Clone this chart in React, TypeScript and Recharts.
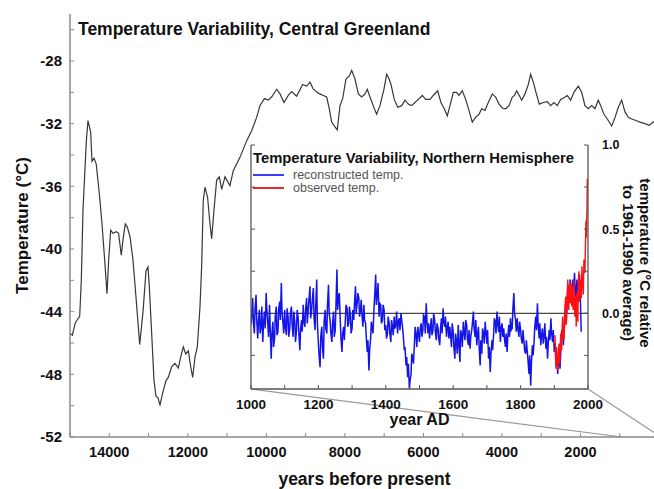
import { LineChart, Line, XAxis, YAxis, ReferenceLine, CartesianGrid } from "recharts";

// Central Greenland temperature, years before present
const gBp = [
  15000, 14940, 14865, 14753, 14712, 14669, 14584, 14542, 14473, 14440,
  14389, 14330, 14244, 14185, 14117, 14058, 14015, 13964, 13906, 13821,
  13762, 13694, 13652, 13592, 13541, 13472, 13396, 13312, 13225, 13137,
  13065, 13014, 12980, 12920, 12861, 12810, 12760, 12708, 12640, 12555,
  12497, 12410, 12326, 12241, 12182, 12114, 12054, 11986, 11927, 11876,
  11817, 11758, 11690, 11648, 11606, 11563, 11496, 11435, 11392, 11333,
  11265, 11198, 11137, 11053, 10926, 10842, 10671, 10502, 10374, 10247,
  10162, 10050, 9950, 9866, 9737, 9652, 9550, 9441, 9355, 9228,
  9075, 8973, 8888, 8803, 8676, 8548, 8463, 8396, 8337, 8252,
  8193, 8124, 8056, 7972, 7887, 7826, 7742, 7657, 7572, 7488,
  7429, 7360, 7233, 7190, 7106, 7004, 6936, 6880, 6825, 6741,
  6655, 6553, 6469, 6385, 6299, 6215, 6130, 6028, 5942, 5833,
  5748, 5637, 5553, 5468, 5392, 5323, 5238, 5154, 5095, 5010,
  4924, 4840, 4755, 4670, 4585, 4516, 4432, 4347, 4245, 4160,
  4075, 3991, 3905, 3820, 3736, 3680, 3625, 3557, 3498, 3413,
  3328, 3268, 3201, 3133, 3048, 2946, 2844, 2759, 2675, 2590,
  2505, 2420, 2335, 2250, 2166, 2056, 1970, 1885, 1801, 1715,
  1630, 1546, 1485, 1401, 1316, 1205, 1120, 1036, 951, 866,
  781, 697, 587, 485, 358, 248, 146, 0,
];
const gTemp = [
  -45.4, -45.5, -44.7, -44.3, -42.0, -37.5, -33.1, -31.8, -32.55, -34.4,
  -34.2, -34.6, -36.7, -38.4, -40.7, -42.85, -40.7, -38.8, -39.0, -38.9,
  -39.0, -40.4, -39.45, -38.4, -38.6, -39.2, -40.7, -43.3, -46.1, -43.9,
  -41.4, -41.15, -42.4, -45.4, -48.4, -49.4, -49.5, -49.95, -49.2, -48.4,
  -48.2, -47.5, -47.3, -47.6, -46.9, -46.25, -46.7, -46.5, -47.5, -48.2,
  -46.9, -46.25, -43.7, -41.15, -36.9, -36.05, -36.7, -38.4, -39.35, -37.5,
  -35.6, -35.4, -36.2, -35.4, -35.95, -35.0, -34.15, -33.1, -32.45, -31.6,
  -30.85, -30.4, -30.5, -30.3, -29.8, -30.1, -30.65, -30.2, -29.95, -30.25,
  -29.5, -29.6, -29.35, -29.8, -30.05, -30.2, -30.3, -31.05, -31.9, -32.2,
  -32.4, -30.85, -30.4, -29.15, -28.95, -28.6, -29.15, -30.1, -30.3, -30.1,
  -29.8, -30.3, -31.15, -31.4, -30.85, -29.8, -28.85, -29.1, -29.5, -30.45,
  -30.95, -30.85, -30.5, -30.75, -30.85, -30.65, -30.45, -30.2, -30.45, -30.45,
  -30.2, -29.9, -30.65, -31.05, -31.5, -30.85, -30.0, -30.0, -30.2, -29.9,
  -30.45, -31.15, -31.9, -31.6, -31.4, -31.05, -31.15, -30.65, -30.1, -30.3,
  -30.75, -31.0, -31.05, -30.85, -30.3, -30.2, -29.9, -30.2, -30.5, -30.1,
  -29.5, -28.85, -29.35, -30.0, -30.75, -30.65, -30.6, -30.85, -30.65, -30.85,
  -30.45, -30.35, -30.2, -30.5, -30.0, -29.6, -30.0, -30.85, -31.05, -30.85,
  -31.05, -30.5, -30.85, -31.4, -31.7, -32.15, -31.6, -30.95, -30.5, -31.25,
  -31.6, -31.7, -31.8, -31.9, -32.0, -32.1, -31.9, -31.7,
];

// Northern Hemisphere reconstruction, year AD (5-year samples)
const reconYears = [
  1000, 1005, 1010, 1015, 1020, 1025, 1030, 1035, 1040, 1045,
  1050, 1055, 1060, 1065, 1070, 1075, 1080, 1085, 1090, 1095,
  1100, 1105, 1110, 1115, 1120, 1125, 1130, 1135, 1140, 1145,
  1150, 1155, 1160, 1165, 1170, 1175, 1180, 1185, 1190, 1195,
  1200, 1205, 1210, 1215, 1220, 1225, 1230, 1235, 1240, 1245,
  1250, 1255, 1260, 1265, 1270, 1275, 1280, 1285, 1290, 1295,
  1300, 1305, 1310, 1315, 1320, 1325, 1330, 1335, 1340, 1345,
  1350, 1355, 1360, 1365, 1370, 1375, 1380, 1385, 1390, 1395,
  1400, 1405, 1410, 1415, 1420, 1425, 1430, 1435, 1440, 1445,
  1450, 1455, 1460, 1465, 1470, 1475, 1480, 1485, 1490, 1495,
  1500, 1505, 1510, 1515, 1520, 1525, 1530, 1535, 1540, 1545,
  1550, 1555, 1560, 1565, 1570, 1575, 1580, 1585, 1590, 1595,
  1600, 1605, 1610, 1615, 1620, 1625, 1630, 1635, 1640, 1645,
  1650, 1655, 1660, 1665, 1670, 1675, 1680, 1685, 1690, 1695,
  1700, 1705, 1710, 1715, 1720, 1725, 1730, 1735, 1740, 1745,
  1750, 1755, 1760, 1765, 1770, 1775, 1780, 1785, 1790, 1795,
  1800, 1805, 1810, 1815, 1820, 1825, 1830, 1835, 1840, 1845,
  1850, 1855, 1860, 1865, 1870, 1875, 1880, 1885, 1890, 1895,
  1900, 1905, 1910, 1915, 1920, 1925, 1930, 1935, 1940, 1945,
  1950, 1955, 1960, 1965, 1970, 1975, 1980,
];
const reconTemp = [
  -0.07, 0.09, -0.12, 0.11, -0.15, 0.02, -0.08, -0.17, 0.01, 0.12,
  -0.07, 0.05, -0.27, -0.05, -0.15, 0.04, -0.11, 0.07, 0.18, -0.06,
  0.02, -0.13, -0.02, -0.09, 0.04, -0.14, -0.05, -0.10, -0.03, -0.22,
  -0.04, 0.05, -0.08, 0.09, 0.03, 0.16, 0.02, 0.15, -0.10, 0.20,
  -0.18, -0.32, -0.08, -0.27, 0.02, -0.12, 0.17, -0.05, -0.17, 0.01,
  -0.10, 0.26, 0.10, -0.05, -0.23, -0.08, -0.04, 0.03, -0.06, -0.01,
  -0.09, -0.04, 0.16, 0.06, 0.09, 0.02, -0.03, 0.05, -0.06, -0.23,
  -0.34, -0.15, -0.09, 0.03, 0.23, 0.12, -0.02, 0.05, -0.04, 0.02,
  -0.07, -0.12, -0.06, -0.17, -0.08, -0.02, -0.07, -0.12, -0.03, 0.00,
  -0.09, -0.22, -0.31, -0.38, -0.45, -0.36, -0.27, -0.18, -0.13, -0.08,
  -0.17, -0.06, -0.10, -0.02, 0.06, -0.12, -0.15, -0.03, -0.10, -0.04,
  -0.16, -0.09, -0.19, -0.03, 0.03, -0.08, -0.14, -0.05, -0.08, -0.20,
  -0.11, -0.27, -0.17, -0.07, -0.29, -0.13, -0.05, -0.16, -0.07, -0.19,
  -0.21, -0.10, 0.01, -0.14, -0.19, -0.08, -0.31, -0.24, -0.12, -0.05,
  -0.18, -0.27, -0.35, -0.16, -0.12, -0.05, 0.01, -0.11, -0.17, -0.06,
  -0.09, -0.20, -0.23, -0.07, -0.03, -0.09, 0.12, -0.04, -0.03, -0.14,
  -0.10, -0.18, -0.17, -0.24, -0.23, -0.36, -0.43, -0.19, -0.17, -0.02,
  0.06, -0.15, -0.19, -0.09, -0.13, -0.21, -0.27, -0.10, -0.03, -0.17,
  -0.23, -0.31, -0.36, -0.27, -0.20, -0.12, -0.05, 0.08, 0.16, 0.07,
  0.15, 0.20, 0.24, 0.09, 0.15, 0.23, -0.11,
];
// in-between years of the reconstruction (short-term swings)
const reconMidYears = [
  1002, 1007, 1012, 1017, 1022, 1027, 1032, 1037, 1042, 1047,
  1052, 1057, 1062, 1067, 1072, 1077, 1082, 1087, 1092, 1097,
  1102, 1107, 1112, 1117, 1122, 1127, 1132, 1137, 1142, 1147,
  1152, 1157, 1162, 1167, 1172, 1177, 1182, 1187, 1192, 1197,
  1202, 1207, 1212, 1217, 1222, 1227, 1232, 1237, 1242, 1247,
  1252, 1257, 1262, 1267, 1272, 1277, 1282, 1287, 1292, 1297,
  1302, 1307, 1312, 1317, 1322, 1327, 1332, 1337, 1342, 1347,
  1352, 1357, 1362, 1367, 1372, 1377, 1382, 1387, 1392, 1397,
  1402, 1407, 1412, 1417, 1422, 1427, 1432, 1437, 1442, 1447,
  1452, 1457, 1462, 1467, 1472, 1477, 1482, 1487, 1492, 1497,
  1502, 1507, 1512, 1517, 1522, 1527, 1532, 1537, 1542, 1547,
  1552, 1557, 1562, 1567, 1572, 1577, 1582, 1587, 1592, 1597,
  1602, 1607, 1612, 1617, 1622, 1627, 1632, 1637, 1642, 1647,
  1652, 1657, 1662, 1667, 1672, 1677, 1682, 1687, 1692, 1697,
  1702, 1707, 1712, 1717, 1722, 1727, 1732, 1737, 1742, 1747,
  1752, 1757, 1762, 1767, 1772, 1777, 1782, 1787, 1792, 1797,
  1802, 1807, 1812, 1817, 1822, 1827, 1832, 1837, 1842, 1847,
  1852, 1857, 1862, 1867, 1872, 1877, 1882, 1887, 1892, 1897,
  1902, 1907, 1912, 1917, 1922, 1927, 1932, 1937, 1942, 1947,
  1952, 1957, 1962, 1967, 1972, 1977,
];
const reconMidTemp = [
  -0.02, -0.05, 0.03, -0.04, -0.05, -0.12, 0.04, -0.06, -0.09, 0.02,
  -0.14, -0.10, -0.12, -0.20, -0.02, -0.13, 0.02, -0.04, 0.01, -0.12,
  -0.08, 0.03, -0.14, 0.00, -0.07, 0.01, -0.17, 0.02, -0.12, -0.10,
  -0.11, -0.05, 0.02, -0.06, 0.08, -0.03, 0.08, -0.02, 0.04, -0.06,
  -0.25, -0.14, -0.20, -0.05, -0.09, 0.05, 0.00, -0.12, -0.06, -0.14,
  0.04, 0.02, 0.12, -0.15, -0.12, -0.16, 0.05, -0.08, 0.04, -0.12,
  0.02, 0.05, 0.00, 0.12, -0.02, 0.08, -0.08, -0.04, -0.14, -0.16,
  -0.22, -0.05, -0.12, 0.10, 0.05, 0.18, 0.06, -0.06, 0.05, -0.10,
  -0.15, -0.02, -0.12, -0.04, -0.13, -0.09, 0.01, -0.05, -0.10, -0.04,
  -0.14, -0.20, -0.26, -0.30, -0.40, -0.24, -0.30, -0.08, -0.20, -0.12,
  -0.09, -0.14, -0.01, -0.12, -0.04, -0.06, -0.09, -0.13, 0.00, -0.11,
  -0.06, -0.15, -0.10, -0.12, -0.05, -0.02, -0.09, -0.15, -0.13, -0.06,
  -0.20, -0.12, -0.24, -0.18, -0.10, -0.20, -0.11, -0.04, -0.15, -0.10,
  -0.14, -0.06, -0.09, -0.04, -0.13, -0.20, -0.16, -0.09, -0.18, -0.11,
  -0.10, -0.20, -0.24, -0.22, -0.03, -0.12, -0.06, -0.02, -0.09, -0.14,
  -0.15, -0.12, -0.14, -0.14, -0.10, 0.02, 0.00, -0.11, -0.09, -0.05,
  -0.15, -0.10, -0.22, -0.16, -0.28, -0.25, -0.30, -0.25, -0.08, -0.10,
  -0.07, -0.06, -0.13, -0.18, -0.06, -0.14, -0.18, -0.16, -0.12, -0.10,
  -0.18, -0.24, -0.30, -0.33, -0.10, -0.19, 0.02, 0.00, 0.10, 0.20,
  0.08, 0.12, 0.14, 0.20, 0.07, 0.10,
];

// Instrumental record
const obsYears = [
  1902, 1904, 1905, 1907, 1908, 1910, 1911, 1913, 1914, 1916,
  1917, 1919, 1920, 1922, 1923, 1925, 1926, 1928, 1929, 1931,
  1932, 1934, 1935, 1937, 1938, 1940, 1941, 1943, 1944, 1946,
  1947, 1949, 1950, 1952, 1953, 1955, 1956, 1958, 1959, 1961,
  1962, 1964, 1965, 1967, 1968, 1970, 1971, 1973, 1974, 1976,
  1977, 1979, 1980, 1982, 1983, 1985, 1986, 1988, 1989, 1991,
  1992, 1994, 1995, 1997, 1998,
];
const obsTemp = [
  -0.13, -0.25, -0.33, -0.20, -0.24, -0.34, -0.31, -0.22, -0.18, -0.30,
  -0.26, -0.12, -0.15, -0.22, -0.10, -0.02, -0.06, -0.16, -0.14, -0.05,
  0.05, 0.10, -0.07, -0.02, 0.08, 0.20, 0.12, 0.02, 0.17, 0.08,
  0.06, 0.18, 0.09, 0.04, 0.16, 0.08, 0.02, 0.20, 0.12, -0.02,
  0.05, 0.10, -0.08, 0.12, 0.02, -0.05, 0.18, 0.25, 0.07, 0.12,
  0.20, 0.15, 0.09, 0.28, 0.22, 0.15, 0.11, 0.32, 0.30, 0.24,
  0.36, 0.55, 0.45, 0.62, 0.80,
];

const bpTicks = [15000, 14000, 13000, 12000, 11000, 10000, 9000, 8000, 7000, 6000, 5000, 4000, 3000, 2000, 1000, 0];
const tempTicks = [-52, -50, -48, -46, -44, -42, -40, -38, -36, -34, -32, -30, -28, -26];
const adTicks = [1000, 1100, 1200, 1300, 1400, 1500, 1600, 1700, 1800, 1900, 2000];
const anomTicks = [-0.25, 0, 0.25, 0.5, 0.75, 1];

const greenland = gBp.map((bp, i) => ({ bp, temp: gTemp[i] }));
const recon = [
  ...reconYears.map((year, i) => ({ year, temp: reconTemp[i] })),
  ...reconMidYears.map((year, i) => ({ year, temp: reconMidTemp[i] })),
].sort((a, b) => a.year - b.year);
const observed = obsYears.map((year, i) => ({ year, temp: obsTemp[i] }));

const FONT = '"Liberation Sans", Arial, sans-serif';
const AXIS = "#8a8a8a";
const BLUE = "#1414e8";
const RED = "#ff1010";

// main plot box in page pixels
const M = { left: 70, top: 14, right: 659, bottom: 437 };
// inset placement
const IN = { left: 225, top: 135, w: 429, h: 300, plotLeft: 26, plotTop: 10, yAxisW: 66, xAxisH: 46 };
const insetBottom = IN.top + IN.h - IN.xAxisH;
const insetL = IN.left + IN.plotLeft;
const insetR = IN.left + IN.w - IN.yAxisW;

const pxToBp = (px: number) => 15000 * (1 - (px - M.left) / (M.right - M.left));
const pyToTemp = (py: number) => -52 + (27 * (M.bottom - py)) / (M.bottom - M.top);

const RightLabel = (props: any) => {
  const vb = props.viewBox || {};
  const cx = vb.x + 52;
  const cy = vb.y + vb.height / 2 - 4;
  return (
    <text
      x={cx} y={cy} transform={`rotate(90, ${cx}, ${cy})`}
      textAnchor="middle" fill="#111" fontSize={15} fontWeight={700}
    >
      <tspan x={cx} dy={0}>temperature (°C relative</tspan>
      <tspan x={cx} dy={17}>to 1961-1990 average)</tspan>
    </text>
  );
};

const legendItems = [
  { name: "reconstructed temp.", color: "#3c3cff" },
  { name: "observed temp.", color: "#e82a2a" },
];

export default function App() {
  return (
    <div style={{ position: "fixed", left: 0, top: 0, width: 654, height: 489, overflow: "hidden", background: "#fff", fontFamily: FONT }}>
      <div style={{ position: "absolute", left: 0, top: 0 }}>
        <LineChart width={670} height={489} data={greenland} margin={{ top: M.top, right: 670 - M.right, bottom: 0, left: 0 }}>
          <XAxis
            dataKey="bp" type="number" domain={[0, 15000]} reversed allowDataOverflow
            ticks={bpTicks} interval={0} height={489 - M.bottom}
            tickFormatter={(v) => (v % 2000 === 0 && v > 0 ? String(v) : "")}
            tickSize={-4} tickMargin={14}
            axisLine={{ stroke: AXIS, strokeWidth: 1.5 }} tickLine={{ stroke: AXIS }}
            tick={{ fill: "#111", fontSize: 14.5, fontWeight: 700 }}
            label={{ value: "years before present", position: "insideBottom", offset: 4, fill: "#111", fontSize: 17.5, fontWeight: 700 }}
          />
          <XAxis
            xAxisId="top" orientation="top" dataKey="bp" type="number" domain={[0, 15000]} reversed allowDataOverflow
            ticks={bpTicks} interval={0} height={0} tickFormatter={() => ""} tickSize={-4}
            axisLine={{ stroke: AXIS, strokeWidth: 1.5 }} tickLine={{ stroke: AXIS }}
          />
          <YAxis
            type="number" domain={[-52, -25]} allowDataOverflow ticks={tempTicks} interval={0} width={M.left}
            tickFormatter={(v) => (v % 4 === 0 ? String(v) : "")}
            tickSize={-4} tickMargin={12}
            axisLine={{ stroke: AXIS, strokeWidth: 1.5 }} tickLine={{ stroke: AXIS }}
            tick={{ fill: "#111", fontSize: 15, fontWeight: 700 }}
            label={{ value: "Temperature (°C)", angle: -90, position: "insideLeft", offset: 22, fill: "#111", fontSize: 17, fontWeight: 700, style: { textAnchor: "middle" } }}
          />
          <ReferenceLine
            segment={[{ x: pxToBp(insetL), y: pyToTemp(insetBottom) }, { x: 950, y: -52 }]}
            stroke="#9a9a9a" strokeWidth={1.2} ifOverflow="visible"
          />
          <ReferenceLine
            segment={[{ x: pxToBp(insetR), y: pyToTemp(insetBottom) }, { x: -50, y: -52 }]}
            stroke="#9a9a9a" strokeWidth={1.2} ifOverflow="visible"
          />
          <Line type="linear" dataKey="temp" stroke="#383838" strokeWidth={1.2} dot={false} isAnimationActive={false} />
        </LineChart>
      </div>

      <div style={{ position: "absolute", left: 78, top: 21, fontSize: 17.5, fontWeight: 700, color: "#111", lineHeight: 1, whiteSpace: "nowrap" }}>
        Temperature Variability, Central Greenland
      </div>

      <div style={{ position: "absolute", left: IN.left, top: IN.top }}>
        <LineChart width={IN.w} height={IN.h} margin={{ top: IN.plotTop, right: 0, bottom: 0, left: 0 }}>
          <CartesianGrid horizontal={false} vertical={false} fill="#fff" stroke="none" />
          <XAxis
            dataKey="year" type="number" domain={[1000, 2000]} allowDataOverflow ticks={adTicks} interval={0} height={IN.xAxisH}
            tickFormatter={(v) => (v % 200 === 0 ? String(v) : "")}
            tickSize={-4} tickMargin={14}
            axisLine={{ stroke: "#555", strokeWidth: 1.3 }} tickLine={{ stroke: "#555" }}
            tick={{ fill: "#111", fontSize: 13.5, fontWeight: 700 }}
            label={{ value: "year AD", position: "insideBottom", offset: 10, fill: "#111", fontSize: 16, fontWeight: 700 }}
          />
          <XAxis
            xAxisId="top" orientation="top" dataKey="year" type="number" domain={[1000, 2000]} allowDataOverflow
            ticks={adTicks} interval={0} height={0} tickFormatter={() => ""} tickSize={-4}
            axisLine={{ stroke: "#555", strokeWidth: 1.3 }} tickLine={{ stroke: "#555" }}
          />
          <YAxis
            type="number" domain={[-0.45, 1]} allowDataOverflow ticks={anomTicks} interval={0} width={IN.plotLeft}
            tickFormatter={() => ""} tickSize={-4}
            axisLine={{ stroke: "#555", strokeWidth: 1.3 }} tickLine={{ stroke: "#555" }}
          />
          <YAxis
            yAxisId="right" orientation="right" type="number" domain={[-0.45, 1]} allowDataOverflow ticks={anomTicks} interval={0} width={IN.yAxisW}
            tickFormatter={(v) => (Math.abs(v * 2 - Math.round(v * 2)) < 1e-9 ? v.toFixed(1) : "")}
            tickSize={-4} tickMargin={18}
            axisLine={{ stroke: "#555", strokeWidth: 1.3 }} tickLine={{ stroke: "#555" }}
            tick={{ fill: "#111", fontSize: 12.5, fontWeight: 700 }}
            label={<RightLabel />}
          />
          <ReferenceLine y={0} stroke="#444" strokeWidth={1.2} />
          <Line data={recon} type="linear" dataKey="temp" stroke={BLUE} strokeWidth={1.5} dot={false} isAnimationActive={false} />
          <Line data={observed} type="linear" dataKey="temp" stroke={RED} strokeWidth={1.4} dot={false} isAnimationActive={false} />
        </LineChart>
      </div>

      <div style={{ position: "absolute", left: 253, top: 151, fontSize: 14.8, fontWeight: 700, color: "#111", lineHeight: 1, whiteSpace: "nowrap" }}>
        Temperature Variability, Northern Hemisphere
      </div>
      <div style={{ position: "absolute", left: 253, top: 169, fontSize: 12.5, color: "#555", lineHeight: "12.5px" }}>
        {legendItems.map((s) => (
          <div key={s.name} style={{ display: "flex", alignItems: "center", height: 12.5 }}>
            <div style={{ width: 31, height: 2, background: s.color, marginRight: 9 }} />
            <span>{s.name}</span>
          </div>
        ))}
      </div>
    </div>
  );
}
